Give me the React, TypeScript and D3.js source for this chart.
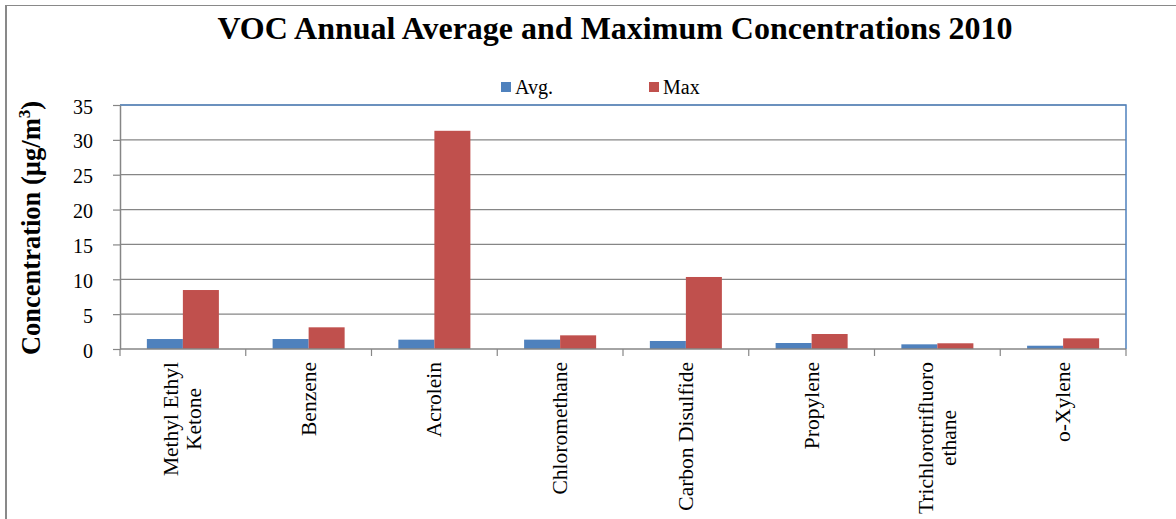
import { useEffect, useRef } from "react";
import * as d3 from "d3";

const categories = [
  "Methyl Ethyl|Ketone",
  "Benzene",
  "Acrolein",
  "Chloromethane",
  "Carbon Disulfide",
  "Propylene",
  "Trichlorotrifluoro|ethane",
  "o-Xylene",
];
const seriesNames = ["Avg.", "Max"];
const avgValues = [1.43, 1.43, 1.34, 1.34, 1.15, 0.86, 0.67, 0.47];
const maxValues = [8.46, 3.11, 31.3, 1.96, 10.33, 2.15, 0.82, 1.53];
const yTicks = [0, 5, 10, 15, 20, 25, 30, 35];

const colors = ["#4F81BD", "#C0504D"];
const FONT = "'Liberation Serif', 'Times New Roman', serif";

export default function App() {
  const svgRef = useRef<SVGSVGElement>(null);
  const width = 1176;
  const height = 519;
  const plot = { left: 120, right: 1126, top: 105, bottom: 349 };

  useEffect(() => {
    if (!svgRef.current) return;
    const svg = d3.select(svgRef.current);
    svg.selectAll("*").remove();

    // outer chart frame
    svg.append("line")
      .attr("x1", 6).attr("x2", 6).attr("y1", 5).attr("y2", height)
      .attr("stroke", "#898989").attr("stroke-width", 2);
    svg.append("line")
      .attr("x1", 5).attr("x2", width).attr("y1", 5.5).attr("y2", 5.5)
      .attr("stroke", "#898989").attr("stroke-width", 1);

    // title
    svg.append("text")
      .attr("x", 615).attr("y", 39)
      .attr("text-anchor", "middle")
      .attr("font-weight", "bold")
      .attr("font-size", 32)
      .text("VOC Annual Average and Maximum Concentrations 2010");

    const x0 = d3.scaleBand<string>()
      .domain(categories)
      .range([plot.left, plot.right])
      .paddingInner(0)
      .paddingOuter(0);

    const x1 = d3.scaleBand<string>()
      .domain(seriesNames)
      .range([0, x0.bandwidth()])
      .paddingInner(0)
      .paddingOuter(0.746);

    const y = d3.scaleLinear().domain([0, 35]).range([plot.bottom, plot.top]);

    // gridlines
    svg.append("g")
      .selectAll("line")
      .data(yTicks.slice(1))
      .enter()
      .append("line")
      .attr("x1", plot.left).attr("x2", plot.right)
      .attr("y1", (d) => y(d)).attr("y2", (d) => y(d))
      .attr("stroke", "#868686")
      .attr("stroke-width", 1.2);

    // plot area border (top & right)
    svg.append("path")
      .attr("d", `M${plot.left},${plot.top}H${plot.right}V${plot.bottom}`)
      .attr("fill", "none")
      .attr("stroke", "#4F81BD")
      .attr("stroke-width", 1.5);

    // bars
    const rows = categories.map((c, i) => ({ c, vals: [avgValues[i], maxValues[i]] }));
    const groups = svg.append("g")
      .selectAll("g")
      .data(rows)
      .enter()
      .append("g")
      .attr("transform", (d) => `translate(${x0(d.c)},0)`);
    groups.selectAll("rect")
      .data((d) => d.vals.map((v, k) => ({ v, k })))
      .enter()
      .append("rect")
      .attr("x", (d) => x1(seriesNames[d.k])!)
      .attr("width", x1.bandwidth())
      .attr("y", (d) => y(d.v))
      .attr("height", (d) => y(0) - y(d.v))
      .attr("fill", (d) => colors[d.k]);

    // y axis
    const yAxis = svg.append("g")
      .attr("transform", `translate(${plot.left},0)`)
      .call(d3.axisLeft(y).tickValues(yTicks).tickSize(7).tickPadding(20).tickSizeOuter(0));
    yAxis.attr("font-family", FONT).attr("font-size", 20);
    yAxis.select(".domain").attr("stroke", "#868686").attr("stroke-width", 1.5);
    yAxis.selectAll(".tick line").attr("stroke", "#868686").attr("stroke-width", 1.2);
    yAxis.selectAll("text")
      .attr("font-family", FONT)
      .attr("font-size", 20)
      .attr("fill", "#000")
      .attr("dy", "0.4em");

    // x axis line & ticks at category boundaries
    const xa = svg.append("g");
    xa.append("line")
      .attr("x1", plot.left).attr("x2", plot.right)
      .attr("y1", plot.bottom).attr("y2", plot.bottom)
      .attr("stroke", "#868686").attr("stroke-width", 1.5);
    const bounds = categories.map((c) => x0(c)!).concat([plot.right]);
    xa.selectAll("line.tick")
      .data(bounds)
      .enter()
      .append("line")
      .attr("class", "tick")
      .attr("x1", (d) => d).attr("x2", (d) => d)
      .attr("y1", plot.bottom).attr("y2", plot.bottom + 7)
      .attr("stroke", "#868686").attr("stroke-width", 1.2);

    // x labels (rotated, top-aligned)
    const lineH = 23;
    categories.forEach((c) => {
      const lines = c.split("|");
      const cx = x0(c)! + x0.bandwidth() / 2;
      const g = xa.append("g");
      const texts = lines.map((ln, i) =>
        g.append("text")
          .attr("text-anchor", "middle")
          .attr("dominant-baseline", "central")
          .attr("font-size", 21.5)
          .attr("x", 0)
          .attr("y", (i - (lines.length - 1) / 2) * lineH)
          .text(ln)
      );
      const maxLen = d3.max(texts, (t) => (t.node() as SVGTextElement).getComputedTextLength()) || 0;
      g.attr("transform", `translate(${cx},${362 + maxLen / 2}) rotate(-90)`);
    });

    // y axis title
    const yt = svg.append("text")
      .attr("transform", `translate(40,228) rotate(-90)`)
      .attr("text-anchor", "middle")
      .attr("font-weight", "bold")
      .attr("font-size", 26.5);
    yt.append("tspan").text("Concentration (µg/m");
    yt.append("tspan").attr("font-size", 17).attr("dy", -10).text("3");
    yt.append("tspan").attr("dy", 10).text(")");

    // legend
    const legendX = [501, 649];
    seriesNames.forEach((s, i) => {
      svg.append("rect")
        .attr("x", legendX[i]).attr("y", 82)
        .attr("width", 10).attr("height", 10)
        .attr("fill", colors[i]);
      svg.append("text")
        .attr("x", legendX[i] + 14).attr("y", 94)
        .attr("font-size", 20)
        .text(s);
    });
  }, []);

  return (
    <svg
      ref={svgRef}
      width={width}
      height={height}
      fontFamily={FONT}
      style={{ position: "absolute", left: 0, top: 0, background: "#fff" }}
    />
  );
}
